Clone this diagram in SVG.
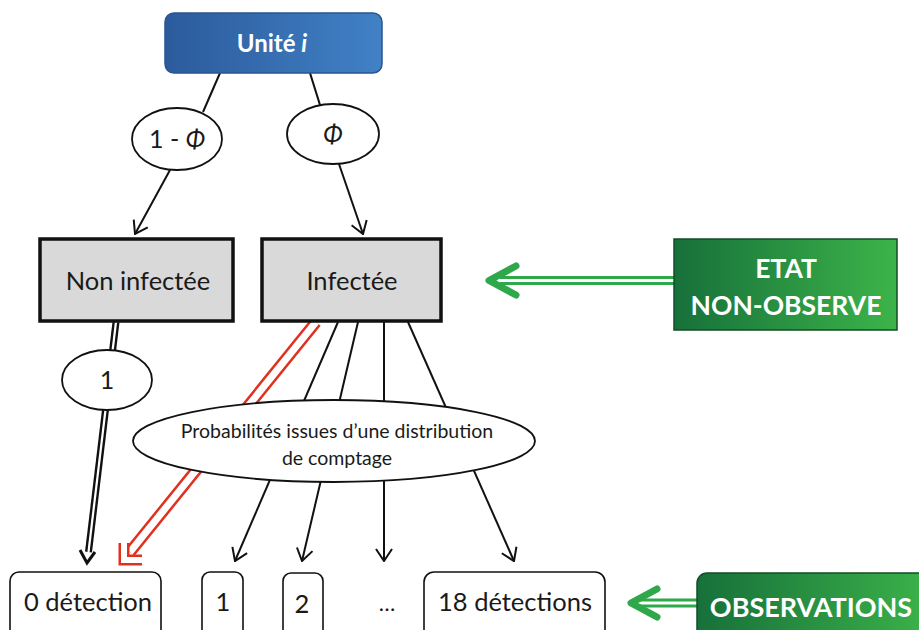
<svg xmlns="http://www.w3.org/2000/svg" width="919" height="630" viewBox="0 0 919 630">
<style>
.t{font-family:Lato,"Open Sans","Liberation Sans",sans-serif;fill:#1a1a1a}
.w{font-family:Lato,"Open Sans","Liberation Sans",sans-serif;fill:#ffffff;font-weight:bold}
.ln{stroke:#111;stroke-width:2;fill:none}
.ell{fill:#fff;stroke:#111;stroke-width:1.8}
.state{fill:#d9d9d9;stroke:#111;stroke-width:3.5}
.obs{fill:#fff;stroke:#111;stroke-width:1.6}
</style>
<defs>
<linearGradient id="blue" x1="0" y1="0" x2="1" y2="0">
<stop offset="0" stop-color="#2b5b9c"/><stop offset="1" stop-color="#4181c6"/>
</linearGradient>
<linearGradient id="green" x1="0" y1="0" x2="1" y2="0">
<stop offset="0" stop-color="#17703a"/><stop offset="1" stop-color="#3cb44a"/>
</linearGradient>
<marker id="arr" markerUnits="userSpaceOnUse" viewBox="0 0 14 18" refX="13" refY="9" markerWidth="14" markerHeight="18" orient="auto">
<path d="M1,1 L13,9 L1,17" fill="none" stroke="#111" stroke-width="2"/>
</marker>
</defs>
<rect width="919" height="630" fill="#fff"/>

<g id="connectors">
<line class="ln" x1="220" y1="73" x2="203" y2="112"/>
<line class="ln" x1="170" y1="170" x2="135" y2="234" marker-end="url(#arr)"/>
<line class="ln" x1="310" y1="73" x2="320" y2="105"/>
<line class="ln" x1="339" y1="164" x2="363" y2="234" marker-end="url(#arr)"/>
<!-- double black line -->
<line x1="116" y1="322" x2="88.5" y2="552" stroke="#111" stroke-width="7"/>
<line x1="116" y1="322" x2="88.5" y2="552" stroke="#fff" stroke-width="2.2"/>
<polyline points="80,550 87,563 95,552" fill="none" stroke="#111" stroke-width="3"/>
<!-- red double arrow -->
<line x1="316" y1="322" x2="130" y2="552" stroke="#e0301e" stroke-width="12"/>
<line x1="316" y1="322" x2="130" y2="552" stroke="#fff" stroke-width="7"/>
<polyline points="124,543 124,560 142,560" fill="none" stroke="#e0301e" stroke-width="11"/>
<polyline points="124,543 124,560 142,560" fill="none" stroke="#fff" stroke-width="6"/>
<!-- count lines -->
<line class="ln" x1="338" y1="322" x2="235" y2="561" marker-end="url(#arr)"/>
<line class="ln" x1="358" y1="322" x2="302" y2="561" marker-end="url(#arr)"/>
<line class="ln" x1="384" y1="322" x2="384" y2="561" marker-end="url(#arr)"/>
<line class="ln" x1="408" y1="322" x2="514" y2="561" marker-end="url(#arr)"/>
<!-- green arrows -->
<line x1="500" y1="280.5" x2="675" y2="280.5" stroke="#2ea84a" stroke-width="9"/>
<line x1="500" y1="280.5" x2="675" y2="280.5" stroke="#fff" stroke-width="3"/>
<polyline points="516,266 489,280.5 516,295" fill="none" stroke="#2ea84a" stroke-width="7" stroke-linecap="round" stroke-linejoin="round"/>
<line x1="640" y1="603" x2="698" y2="603" stroke="#2ea84a" stroke-width="9"/>
<line x1="640" y1="603" x2="698" y2="603" stroke="#fff" stroke-width="3"/>
<polyline points="657,589 631,603 657,617" fill="none" stroke="#2ea84a" stroke-width="7" stroke-linecap="round" stroke-linejoin="round"/>
</g>

<g id="unite">
<rect x="165" y="13" width="217" height="60" rx="9" fill="url(#blue)" stroke="#2a5590" stroke-width="1.5"/>
<text class="w" x="272" y="52" font-size="24" text-anchor="middle">Unité <tspan font-style="italic">i</tspan></text>
</g>
<g id="p-non">
<ellipse class="ell" cx="177" cy="139" rx="45" ry="31"/>
<text class="t" x="177" y="148" font-size="25" text-anchor="middle">1 - <tspan font-style="italic">Φ</tspan></text>
</g>
<g id="p-inf">
<ellipse class="ell" cx="333" cy="134" rx="46" ry="30"/>
<text class="t" x="333" y="143" font-size="25" text-anchor="middle" font-style="italic">Φ</text>
</g>
<g id="non-infectee">
<rect class="state" x="40" y="239" width="193" height="82"/>
<text class="t" x="138" y="290" font-size="25.5" text-anchor="middle">Non infectée</text>
</g>
<g id="infectee">
<rect class="state" x="262" y="239" width="179" height="82"/>
<text class="t" x="352" y="290" font-size="25.5" text-anchor="middle">Infectée</text>
</g>
<g id="etat">
<rect x="674" y="239" width="223" height="91" fill="url(#green)" stroke="#114d25" stroke-width="1.5"/>
<text class="w" x="786" y="278" font-size="26.5" text-anchor="middle">ETAT</text>
<text class="w" x="786" y="315" font-size="26.5" text-anchor="middle">NON-OBSERVE</text>
</g>
<g id="p-one">
<ellipse class="ell" cx="107" cy="380" rx="45" ry="30"/>
<text class="t" x="107" y="389" font-size="25" text-anchor="middle">1</text>
</g>
<g id="p-count">
<ellipse class="ell" cx="334" cy="441" rx="201" ry="41"/>
<text class="t" x="337" y="438" font-size="19.5" text-anchor="middle">Probabilités issues d’une distribution</text>
<text class="t" x="337" y="465" font-size="19.5" text-anchor="middle">de comptage</text>
</g>
<g id="obs0">
<rect class="obs" x="10" y="572" width="151" height="72" rx="9"/>
<text class="t" x="88" y="611" font-size="25.5" text-anchor="middle">0 détection</text>
</g>
<g id="obs1">
<rect class="obs" x="202" y="572" width="41" height="72" rx="8"/>
<text class="t" x="223" y="611" font-size="25.5" text-anchor="middle">1</text>
</g>
<g id="obs2">
<rect class="obs" x="283" y="573" width="40" height="72" rx="8"/>
<text class="t" x="302" y="613" font-size="25.5" text-anchor="middle">2</text>
</g>
<g id="obs-dots">
<text class="t" x="387" y="611" font-size="22" text-anchor="middle">…</text>
</g>
<g id="obs18">
<rect class="obs" x="424" y="572" width="181" height="72" rx="10"/>
<text class="t" x="515" y="611" font-size="25.5" text-anchor="middle">18 détections</text>
</g>
<g id="observations">
<rect x="697" y="573" width="240" height="80" rx="10" fill="url(#green)" stroke="#114d25" stroke-width="1.5"/>
<text class="w" x="811" y="617" font-size="27" text-anchor="middle">OBSERVATIONS</text>
</g>
</svg>
